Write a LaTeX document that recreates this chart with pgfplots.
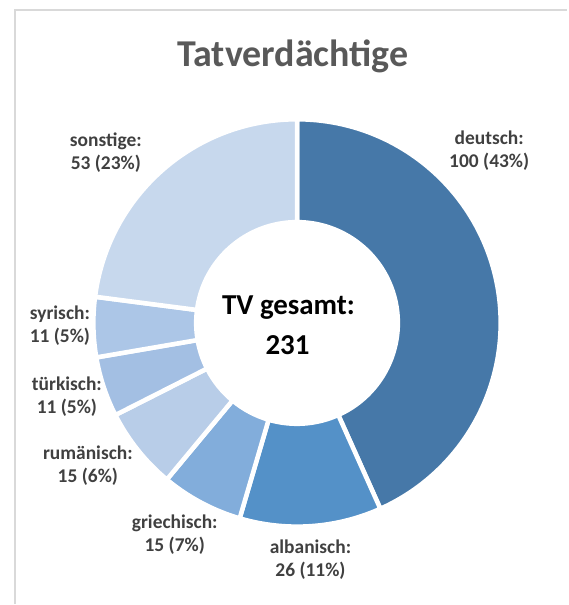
\documentclass[border=0pt]{standalone}
\usepackage{pgfplots}
\pgfplotsset{compat=1.18}
\usepackage{pgfplotstable}
\usepackage{fontspec}
\setmainfont{Carlito}
\definecolor{c0}{RGB}{70,120,168}
\definecolor{c1}{RGB}{84,145,200}
\definecolor{c2}{RGB}{130,173,219}
\definecolor{c3}{RGB}{184,205,232}
\definecolor{c4}{RGB}{163,191,227}
\definecolor{c5}{RGB}{172,198,231}
\definecolor{c6}{RGB}{199,216,237}
\definecolor{lbl}{RGB}{64,64,64}
\definecolor{ttl}{RGB}{89,89,89}
\definecolor{frame}{RGB}{217,217,217}
% name, value, shown percentage, label position (px from left, px from bottom)
\pgfplotstableread{
name value pct lx ly
deutsch 100 43 490 454.5
albanisch 26 11 311 44
griechisch 15 7 175 69.5
rumänisch 15 6 88 138.5
türkisch 11 5 67 207.5
syrisch 11 5 60 279
sonstige 53 23 106 452.5
}\data
\begin{document}
\begin{tikzpicture}
\begin{axis}[x=0.75pt,y=0.75pt,xmin=0,xmax=568,ymin=0,ymax=605,
  hide axis, clip=false, axis line style={draw=none}]
\path (axis cs:0,0) rectangle (axis cs:568,605);
\draw[frame, line width=1.5pt] (axis cs:15,0) -- (axis cs:15,595) -- (axis cs:568,595);
\gdef\cum{0}
\pgfplotsinvokeforeach{0,...,6}{
  \pgfplotstablegetelem{#1}{value}\of\data \let\v\pgfplotsretval
  \pgfplotstablegetelem{#1}{name}\of\data \let\nm\pgfplotsretval
  \pgfplotstablegetelem{#1}{pct}\of\data \let\pc\pgfplotsretval
  \pgfplotstablegetelem{#1}{lx}\of\data \let\lx\pgfplotsretval
  \pgfplotstablegetelem{#1}{ly}\of\data \let\ly\pgfplotsretval
  \pgfmathsetmacro\a{90-\cum/231*360}
  \pgfmathsetmacro\b{90-(\cum+\v)/231*360}
  \pgfmathsetmacro\newcum{\cum+\v}
  \global\let\cum\newcum
  \pgfmathtruncatemacro\pcti{\pc}
  \pgfmathtruncatemacro\vi{\v}
  \edef\tmp{\noexpand\fill[c#1, draw=white, line width=3.4pt, line join=miter]
    (axis cs:{297.5+204*cos(\a)},{281.5+204*sin(\a)})
    arc[start angle=\a, end angle=\b, radius=153pt]
    -- (axis cs:{297.5+101*cos(\b)},{281.5+101*sin(\b)})
    arc[start angle=\b, end angle=\a, radius=75.75pt] -- cycle;
    \noexpand\node[lbl, font=\noexpand\bfseries\noexpand\fontsize{14.6pt}{17.3pt}\noexpand\selectfont, align=center]
      at (axis cs:\lx,\ly) {\nm:\noexpand\\\vi\space(\pcti\noexpand\%)};}
  \tmp
}
\node[ttl, font=\bfseries\fontsize{28.5pt}{34pt}\selectfont, anchor=base] at (axis cs:293.5,538) {Tatverdächtige};
\node[black, font=\bfseries\fontsize{21.7pt}{26pt}\selectfont, anchor=base] at (axis cs:289,290) {TV gesamt:};
\node[black, font=\bfseries\fontsize{21.7pt}{26pt}\selectfont, anchor=base] at (axis cs:288,250) {231};
\end{axis}
\end{tikzpicture}
\end{document}
